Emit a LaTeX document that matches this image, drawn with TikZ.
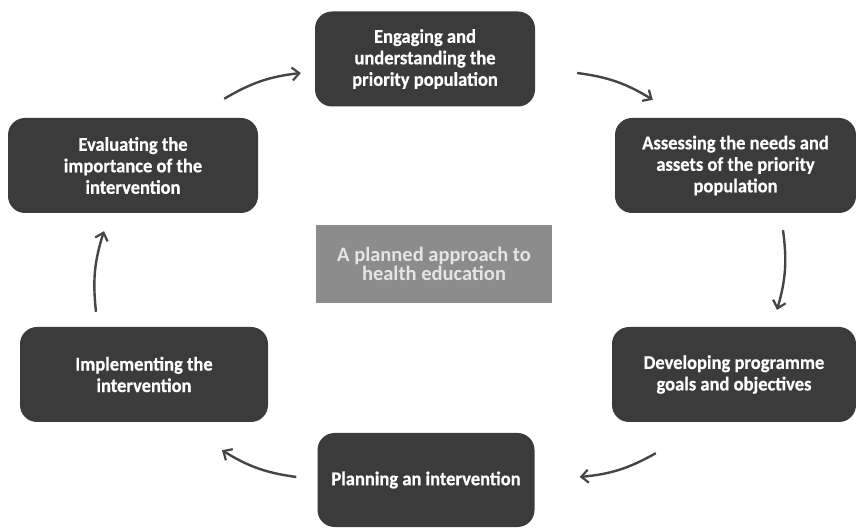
\documentclass[tikz,border=0pt]{standalone}
\usepackage{fontspec}
\setmainfont{Carlito}
\newfontfamily\boxfont[FakeStretch=0.95, FakeBold=0.6]{Carlito}
\usetikzlibrary{arrows.meta}
\definecolor{boxdark}{HTML}{3B3B3B}
\definecolor{boxgrey}{HTML}{8C8C8C}
\definecolor{arrowgrey}{HTML}{454545}

\tikzset{
  stage/.style={draw=none, fill=boxdark, rounded corners=17pt, text=white,
    align=center, inner sep=0pt, font=\boxfont\bfseries\fontsize{19.5}{21.5}\selectfont},
  hub/.style={draw=none, fill=boxgrey, text=white!90!black, align=center,
    inner sep=0pt, font=\bfseries\fontsize{20.5}{19}\selectfont},
  cyc/.style={draw=arrowgrey, line width=2.4pt, bend left=12,
    -{Straight Barb[length=7pt, width=13pt, line width=2.2pt]}}
}

\begin{document}
\begin{tikzpicture}[x=1pt, y=1pt]
        \useasboundingbox (0,0) rectangle (856,527);
        % Draw the nodes
        \node[stage, minimum width=220pt, minimum height=95pt] (eng) at (425, 468) {Engaging and\\understanding the\\priority population};
        \node[stage, minimum width=241pt, minimum height=95pt] (ass) at (735.5, 361.5) {Assessing the needs and\\assets of the priority\\population};
        \node[stage, minimum width=244pt, minimum height=95pt] (dev) at (734, 152.5) {Developing programme\\goals and objectives};
        \node[stage, minimum width=217pt, minimum height=94pt] (pla) at (426, 47) {Planning an intervention};
        \node[stage, minimum width=248pt, minimum height=95pt] (imp) at (144, 152.5) {Implementing the\\intervention};
        \node[stage, minimum width=250pt, minimum height=95pt] (eva) at (133, 361.5) {Evaluating the\\importance of the\\intervention};
        \node[hub, minimum width=236pt, minimum height=78pt] (hub) at (434, 263) {A planned approach to\\health education};

        % Draw the arrows
        \draw[cyc] ([shift={(-34,19)}]eva.north east) to ([shift={(-14,-14)}]eng.west);
        \draw[cyc] ([shift={(42,-14)}]eng.east) to ([shift={(38,18)}]ass.north west);
        \draw[cyc] ([shift={(47.5,-17)}]ass.south) to ([shift={(43,17)}]dev.north);
        \draw[cyc] ([shift={(44,-31)}]dev.south west) to ([shift={(45,3)}]pla.east);
        \draw[cyc] ([shift={(-21,3)}]pla.west) to ([shift={(78,-28)}]imp.south);
        \draw[cyc] ([shift={(-48,15)}]imp.north) to ([shift={(-29,-18)}]eva.south);
    \end{tikzpicture}
\end{document}
